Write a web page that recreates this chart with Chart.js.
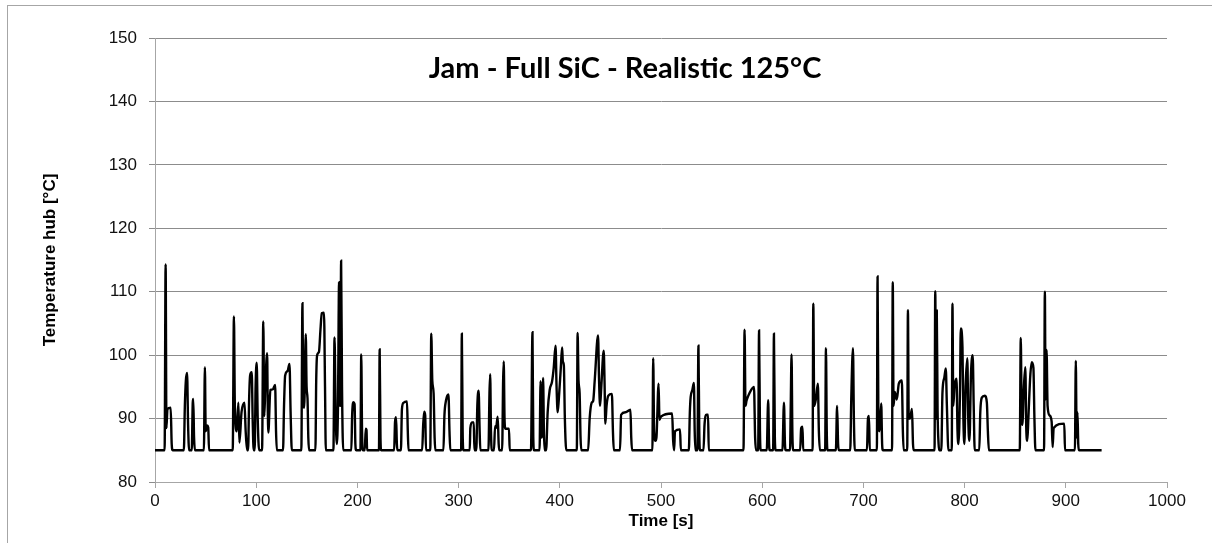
<!DOCTYPE html>
<html>
<head>
<meta charset="utf-8">
<script src="https://cdn.jsdelivr.net/npm/chart.js@4.4.1/dist/chart.umd.min.js"></script>
<style>
  html, body { margin: 0; padding: 0; background: #fff; }
  #wrap { position: relative; width: 1212px; height: 543px; overflow: hidden; }
  #frame { position: absolute; left: 7px; top: 5px; width: 1300px; height: 700px;
           border-left: 1px solid #a6a6a6; border-top: 1px solid #a6a6a6; }
  #tempChart { position: absolute; left: 0; top: 0; }
</style>
</head>
<body>
<div id="wrap">
  <div id="frame"></div>
  <canvas id="tempChart" width="1212" height="543"></canvas>
</div>
<script>
const chartTitle = 'Jam - Full SiC - Realistic 125°C';
const xTitle = 'Time [s]';
const yTitle = 'Temperature hub [°C]';
const xTicks = [0, 100, 200, 300, 400, 500, 600, 700, 800, 900, 1000];
const yTicks = [80, 90, 100, 110, 120, 130, 140, 150];

// hub temperature trace, one time value per temperature value
const timeS = [
  0, 9.5, 10.5, 11.3, 12.3, 15.5, 16.5, 17.5,
  28.5, 29.5, 30.5, 31.7, 32.7, 33.7,
  36.3, 37.3, 37.8, 38.6, 39.5,
  48.3, 49.3, 50.1, 51.5, 52.6, 53.4,
  76.8, 78, 78.9, 80.8, 82.4, 83.4, 85.5, 88.4, 89.6, 91,
  92, 93, 94, 95.6, 96.5, 97.5,
  98.5, 99.4, 100.5, 101.5, 102.9,
  105.8, 107, 108, 109, 110.8, 111.4, 112, 114, 116.4, 118.7, 119.6, 120.4,
  126.5, 127.5, 128.6, 131, 132.9, 134, 135.2,
  144.6, 145.7, 146.6, 147.4, 149, 149.8, 150.7, 151.5, 152.3,
  158.5, 159.3, 160.2, 162, 163.5, 164.8, 167, 168, 168.8,
  176.3, 177.4, 178.5, 179.7, 180.8, 181.9, 182.6, 183.2, 183.9, 184.8, 186,
  194, 194.8, 196, 197.2, 198, 198.8,
  203, 203.8, 204.6, 205.5, 207.3, 208.2, 209, 209.6,
  221.3, 222, 222.8, 223.5,
  236.3, 237.2, 238.2, 239, 239.6,
  243, 244, 245.6, 249, 249.8, 250.5,
  264, 265, 266, 267, 267.8,
  272, 273, 274, 275.3, 276.3, 277,
  285, 286, 287.5, 290, 291, 291.8,
  302.5, 303.2, 304, 304.8,
  311, 311.6, 313.2, 315, 315.6,
  317.5, 318.5, 319.8, 320.8, 321.5,
  329.5, 330.5, 331.2, 332, 332.8,
  335, 336, 337, 338.6, 339.6, 340.2,
  343, 344, 344.6, 345.4, 346.2, 349.8, 350.5,
  371.5, 373, 373.8, 374.5,
  380, 381, 381.8, 382.6, 383.5, 384.3, 385,
  386.5, 388, 390, 392.3, 394, 395.8, 396.8, 397.9, 399, 401, 402.3, 403, 404, 405, 406.4,
  416.8, 417.6, 418.5, 419.6, 420.5, 421.3,
  428, 429.5, 431.5, 433, 434.5, 437.8, 438.8, 439.8, 441, 443.4, 444.2, 445, 446.2, 448, 451.5, 452.5, 453.4,
  459.5, 460.6, 465, 469.8, 470.6, 471.4,
  491.5, 492.3, 493.2, 494.5, 495.5, 497.6, 498.5, 500, 511, 512, 513,
  513.8, 518.8, 519.6,
  527.5, 528.5, 529.3, 531, 532.5, 533.3, 534,
  536, 537, 537.8, 538.5,
  542, 543, 545, 546.5, 547.2,
  581.5, 582.6, 583.5, 584.5, 586, 589, 591.9, 593, 594,
  596, 596.9, 597.8, 598.5,
  604.5, 605.9, 606.8, 607.5,
  610.8, 611.6, 612.5, 613.3,
  620, 621.5, 622.5, 623.3,
  627.5, 628.2, 629, 629.8, 630.6,
  637.5, 638.5, 639.8, 640.5,
  649.8, 650.5, 651.4, 653, 655, 656, 657,
  662.2, 663, 663.8, 664.5,
  672.8, 674, 675, 675.8,
  687, 688, 689.7, 690.6, 691.5,
  703.5, 704.5, 705.5, 706.3,
  713.3, 714, 714.8, 716, 717.6, 718.5, 719.3,
  728.3, 729, 729.8, 731, 733, 735, 738, 739, 739.8,
  743.3, 744, 744.8, 746, 748, 749, 749.8,
  770.3, 771, 771.8, 772.5, 773.3, 774.3, 775,
  777, 778.1, 780, 781.4, 782.5, 784,
  787.3, 788, 788.8, 790, 792, 793, 794, 795.5, 796.2, 797.9, 798.8, 799.8,
  801, 802.7, 803.6, 804.8, 806.3, 808, 809, 810,
  814.5, 815.5, 817, 820, 822, 823, 824,
  854.5, 855.5, 856.3, 857, 858.6, 860, 861, 862, 863, 865, 866.4, 868, 869, 870,
  878.5, 879.3, 880, 881, 882, 884, 886, 887, 888, 898.5, 899.2,
  909, 909.9, 910.7, 911.5, 912.3, 913,
  935.4
];
const hubTempC = [
  85, 85, 114.3, 88.5, 91.5, 91.7, 86, 85,
  85, 92, 96, 97.2, 89, 85,
  85, 92.5, 93.1, 87, 85,
  85, 98.1, 88, 88.9, 88.6, 85,
  85, 106.1, 92, 88, 92.5, 86.2, 91, 92.5, 88, 85,
  85, 93, 96.8, 97.3, 90, 85,
  85, 95, 98.8, 90, 85,
  85, 105.3, 90.4, 95, 100.3, 92, 87.8, 94.5, 94.6, 95.3, 88, 85,
  85, 92, 96.8, 97.5, 98.6, 91, 85,
  85, 108.2, 92, 91.7, 103.3, 95, 93.2, 87, 85,
  85, 96, 100, 100.5, 104, 106.6, 106.7, 95, 85,
  85, 102.8, 91, 86, 92, 111.5, 94, 92, 114.9, 95, 85,
  85, 90.5, 92.6, 92.3, 86, 85,
  85, 100.1, 88, 85, 85, 88.4, 88.2, 85,
  85, 100.9, 87, 85,
  85, 89.5, 90.2, 86, 85,
  85, 91.5, 92.5, 92.7, 88, 85,
  85, 89, 91.1, 90.5, 85,
  85, 103.4, 96, 94, 87, 85,
  85, 90.5, 92.8, 93.8, 88, 85,
  85, 103.4, 88, 85,
  85, 88.5, 89.4, 89.4, 85,
  85, 92, 94.4, 88, 85,
  85, 94, 97, 88, 85,
  85, 88.8, 88.5, 90.3, 86, 85,
  85, 96, 99, 90, 88.4, 88.4, 85,
  85, 103.6, 87, 85,
  85, 95.9, 87, 87.5, 96.4, 88, 85,
  85, 91, 94.5, 95.8, 98, 101.5, 95, 91, 93, 98, 101.2, 99, 98.4, 90, 85,
  85, 103.5, 96, 94, 87, 85,
  85, 90, 92.5, 92.8, 96, 103.1, 96, 92, 95, 100.7, 96, 89.2, 92, 93.6, 93.9, 88, 85,
  85, 90.6, 91, 91.4, 87, 85,
  85, 99.5, 88, 86.5, 87, 95.5, 89.8, 90.3, 90.8, 86.5, 85,
  88, 88.3, 85,
  85, 91, 93.4, 94.5, 95.6, 88, 85,
  85, 101.5, 88, 85,
  85, 89, 90.6, 90.6, 85,
  85, 104, 92, 92.8, 93.5, 94.5, 95, 87, 85,
  85, 103.9, 88, 85,
  85, 92.9, 86, 85,
  85, 103.4, 87, 85,
  85, 92.5, 86, 85,
  85, 92, 100.1, 88, 85,
  85, 88.5, 88.7, 85,
  85, 108.1, 92, 93, 95.5, 88, 85,
  85, 101.1, 88, 85,
  85, 92, 86, 85,
  85, 93, 101.1, 90, 85,
  85, 90, 90.4, 85,
  85, 112.4, 90, 88, 92.4, 86, 85,
  85, 111.5, 92, 94.2, 93, 95.5, 96, 88, 85,
  85, 107.1, 90, 90, 91.5, 86, 85,
  85, 110.1, 90, 107, 91.3, 86, 85,
  85, 94, 96.5, 97.9, 92, 85,
  85, 108.1, 92, 95, 96.3, 88, 86, 95, 104.2, 101.2, 90, 86,
  95, 99.5, 90, 86.5, 97, 100, 92, 85,
  85, 91, 93.3, 93.6, 92.5, 88, 85,
  85, 102.7, 92, 89, 95, 98.1, 88, 86.5, 90, 97, 98.9, 98, 90, 85,
  85, 110, 93, 100.8, 92, 90.5, 89.5, 85.5, 88.5, 89.2, 85,
  85, 99.1, 87, 91, 86, 85,
  85
];

const fontFamily = '"Liberation Sans", Arial, sans-serif';

const titlePlugin = {
  id: 'plotTitle',
  afterDraw(chart) {
    const ctx = chart.ctx;
    ctx.save();
    ctx.font = 'bold 29px Lato, "Open Sans", sans-serif';
    ctx.fillStyle = '#000';
    ctx.textAlign = 'center';
    ctx.textBaseline = 'alphabetic';
    ctx.fillText(chartTitle, 625, 78);
    ctx.restore();
  }
};

const ctx = document.getElementById('tempChart').getContext('2d');
new Chart(ctx, {
  type: 'line',
  data: {
    datasets: [{
      data: timeS.map((t, i) => ({ x: t, y: hubTempC[i] })),
      borderColor: '#000',
      borderWidth: 2.4,
      pointRadius: 0,
      cubicInterpolationMode: 'monotone',
      fill: false
    }]
  },
  options: {
    responsive: false,
    animation: false,
    devicePixelRatio: 1,
    layout: { padding: { left: 0, top: 38, right: 45, bottom: 0 } },
    plugins: {
      legend: { display: false },
      tooltip: { enabled: false }
    },
    scales: {
      x: {
        type: 'linear',
        min: xTicks[0],
        max: xTicks[xTicks.length - 1],
        afterBuildTicks: (scale) => { scale.ticks = xTicks.map(v => ({ value: v })); },
        ticks: {
          color: '#111', font: { family: fontFamily, size: 17 }, padding: 3, maxRotation: 0,
          callback: (v) => String(v)
        },
        grid: { drawOnChartArea: false, drawTicks: true, tickLength: 6, tickColor: '#a6a6a6' },
        border: { color: '#a6a6a6', width: 1 },
        title: {
          display: true, text: xTitle, color: '#000',
          font: { family: fontFamily, size: 17, weight: 'bold' },
          padding: { top: 0, bottom: 11 }
        },
        afterFit: (scale) => { scale.height = 61; }
      },
      y: {
        min: yTicks[0],
        max: yTicks[yTicks.length - 1],
        afterBuildTicks: (scale) => { scale.ticks = yTicks.map(v => ({ value: v })); },
        ticks: { color: '#111', font: { family: fontFamily, size: 17 }, padding: 12 },
        grid: { color: '#8c8c8c', tickLength: 6, tickColor: '#8c8c8c' },
        border: { color: '#a6a6a6', width: 1 },
        title: {
          display: true, text: yTitle, color: '#000',
          font: { family: fontFamily, size: 17, weight: 'bold' },
          padding: { top: 40, bottom: 0 }
        },
        afterFit: (scale) => { scale.width = 155; }
      }
    }
  },
  plugins: [titlePlugin]
});
</script>
</body>
</html>
